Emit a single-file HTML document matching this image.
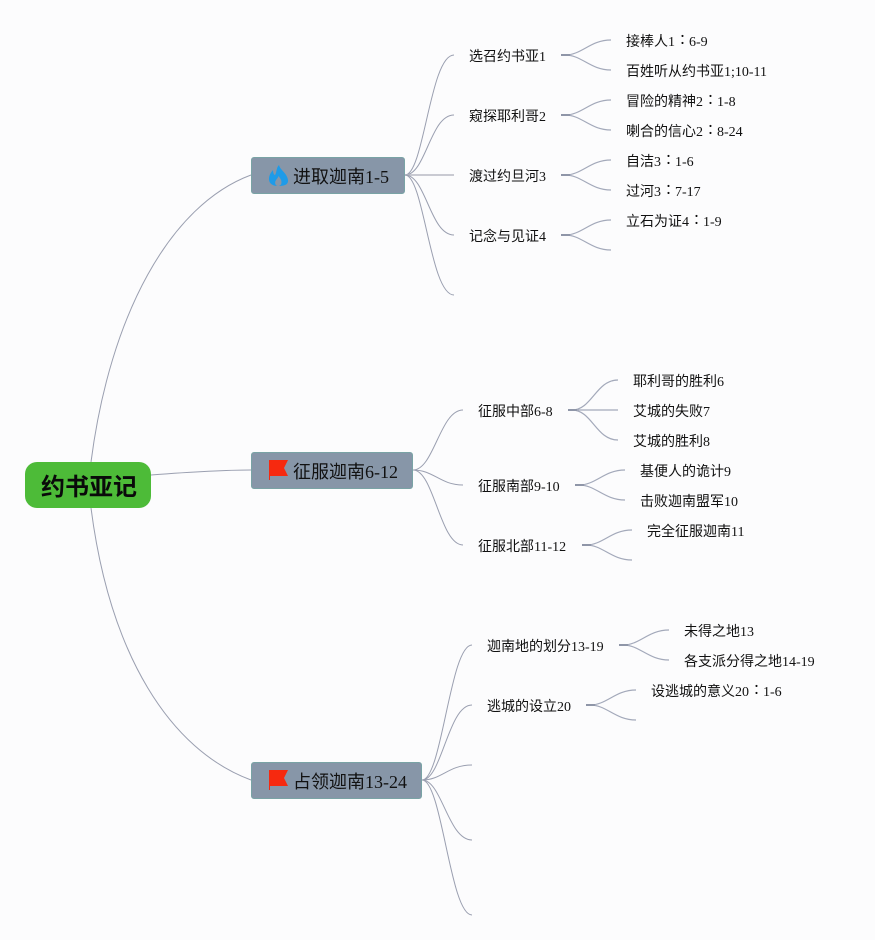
<!DOCTYPE html>
<html lang="zh">
<head>
<meta charset="utf-8">
<style>
html,body{margin:0;padding:0;background:#fcfcfd}
#c{position:relative;width:875px;height:940px;overflow:hidden;background:#fcfcfd;font-family:"Liberation Serif","Noto Sans CJK SC",serif;color:#111}
svg{position:absolute;left:0;top:0}
.t{position:absolute;font-size:14px;line-height:20px;white-space:nowrap;margin-top:3px}
.t b{font-weight:normal;position:relative;left:4px;top:-2px}
.n{position:absolute;box-sizing:border-box;height:37px;background:#8796a8;border:1px solid #79a3a5;border-radius:3px}
.nt{position:absolute;font-size:18px;line-height:26px;white-space:nowrap;color:#111;margin-top:1px}
.r{position:absolute;left:25px;top:462px;width:126px;height:46px;background:#4dbb38;border-radius:12px}
.rt{position:absolute;left:41px;top:472px;font-size:24px;line-height:32px;font-weight:bold;color:#0a0a0a;white-space:nowrap;font-family:"Liberation Sans","Noto Sans CJK SC",sans-serif}
</style>
</head>
<body>
<div id="c">
<svg width="875" height="940" viewBox="0 0 875 940" fill="none">
<g stroke="#9a9fb0" stroke-width="1">
<path d="M91 462C110 315 170 205 251 175"/>
<path d="M151 475C190 472 220 470 251 470"/>
<path d="M91 508C110 655 170 750 251 780"/>
<path d="M405 175C424 175 430 55 454 55"/>
<path d="M405 175C426 175 430 115 454 115"/>
<path d="M405 175H454" stroke-width="1.5" stroke="#b8bac4"/>
<path d="M405 175C426 175 430 235 454 235"/>
<path d="M405 175C424 175 430 295 454 295"/>
<path d="M413 470C434 470 440 410 463 410"/>
<path d="M413 470C434 470 440 485 463 485"/>
<path d="M413 470C434 470 440 545 463 545"/>
<path d="M422 780C442 780 450 645 472 645"/>
<path d="M422 780C442 780 448 705 472 705"/>
<path d="M422 780C442 780 448 765 472 765"/>
<path d="M422 780C442 780 448 840 472 840"/>
<path d="M422 780C442 780 450 915 472 915"/>
</g>
<g stroke="#a3a9ba" stroke-width="1.2">
<path d="M565 55C582 55 590 40 611 40"/><path d="M565 55C582 55 590 70 611 70"/>
<path d="M565 115C582 115 590 100 611 100"/><path d="M565 115C582 115 590 130 611 130"/>
<path d="M565 175C582 175 590 160 611 160"/><path d="M565 175C582 175 590 190 611 190"/>
<path d="M565 235C582 235 590 220 611 220"/><path d="M565 235C582 235 590 250 611 250"/>
<path d="M572 410C592 410 596 380 618 380"/><path d="M572 410H618"/><path d="M572 410C592 410 596 440 618 440"/>
<path d="M579 485C596 485 604 470 625 470"/><path d="M579 485C596 485 604 500 625 500"/>
<path d="M586 545C603 545 611 530 632 530"/><path d="M586 545C603 545 611 560 632 560"/>
<path d="M623 645C640 645 648 630 669 630"/><path d="M623 645C640 645 648 660 669 660"/>
<path d="M590 705C607 705 615 690 636 690"/><path d="M590 705C607 705 615 720 636 720"/>
</g>
<g stroke="#8f96a8" stroke-width="2">
<path d="M561 55h9M561 115h9M561 175h9M561 235h9M568 410h9M575 485h9M582 545h9M619 645h9M586 705h9"/>
</g>
</svg>

<div class="r"></div><div class="rt">约书亚记</div>

<div class="n" style="left:251px;top:157px;width:154px"></div>
<div class="n" style="left:251px;top:452px;width:162px"></div>
<div class="n" style="left:251px;top:762px;width:171px"></div>

<svg width="875" height="940" viewBox="0 0 875 940">
<path d="M279 165C280 170 287 173 288 180C288.500 185 284 186 278 186C272 186 268.500 183 269 178C269.500 174 271.500 172 273 170C273 173 274 175 275 175C277 172 276 168 279 165Z" fill="#1e9be8"/>
<path d="M278 186C275.500 186 274.500 183 275.500 181C276.500 179 278 178 278.500 176C280 178 281.500 180 281.500 182C281.500 185 280 186 278 186Z" fill="#8796a8"/>
<path d="M269 460H288L284 468L288 476H270V480H269Z" fill="#f6290f"/>
<path d="M269 770H288L284 778L288 786H270V790H269Z" fill="#f6290f"/>
</svg>

<div class="nt" style="left:293px;top:163px">进取迦南1-5</div>
<div class="nt" style="left:293px;top:458px">征服迦南6-12</div>
<div class="nt" style="left:293px;top:768px">占领迦南13-24</div>

<div class="t" style="left:469px;top:45px">选召约书亚1</div>
<div class="t" style="left:469px;top:105px">窥探耶利哥2</div>
<div class="t" style="left:469px;top:165px">渡过约旦河3</div>
<div class="t" style="left:469px;top:225px">记念与见证4</div>

<div class="t" style="left:626px;top:30px">接棒人1<b>：</b>6-9</div>
<div class="t" style="left:626px;top:60px">百姓听从约书亚1;10-11</div>
<div class="t" style="left:626px;top:90px">冒险的精神2<b>：</b>1-8</div>
<div class="t" style="left:626px;top:120px">喇合的信心2<b>：</b>8-24</div>
<div class="t" style="left:626px;top:150px">自洁3<b>：</b>1-6</div>
<div class="t" style="left:626px;top:180px">过河3<b>：</b>7-17</div>
<div class="t" style="left:626px;top:210px">立石为证4<b>：</b>1-9</div>

<div class="t" style="left:478px;top:400px">征服中部6-8</div>
<div class="t" style="left:478px;top:475px">征服南部9-10</div>
<div class="t" style="left:478px;top:535px">征服北部11-12</div>

<div class="t" style="left:633px;top:370px">耶利哥的胜利6</div>
<div class="t" style="left:633px;top:400px">艾城的失败7</div>
<div class="t" style="left:633px;top:430px">艾城的胜利8</div>
<div class="t" style="left:640px;top:460px">基便人的诡计9</div>
<div class="t" style="left:640px;top:490px">击败迦南盟军10</div>
<div class="t" style="left:647px;top:520px">完全征服迦南11</div>

<div class="t" style="left:487px;top:635px">迦南地的划分13-19</div>
<div class="t" style="left:487px;top:695px">逃城的设立20</div>

<div class="t" style="left:684px;top:620px">未得之地13</div>
<div class="t" style="left:684px;top:650px">各支派分得之地14-19</div>
<div class="t" style="left:651px;top:680px">设逃城的意义20<b>：</b>1-6</div>
</div>
</body>
</html>
